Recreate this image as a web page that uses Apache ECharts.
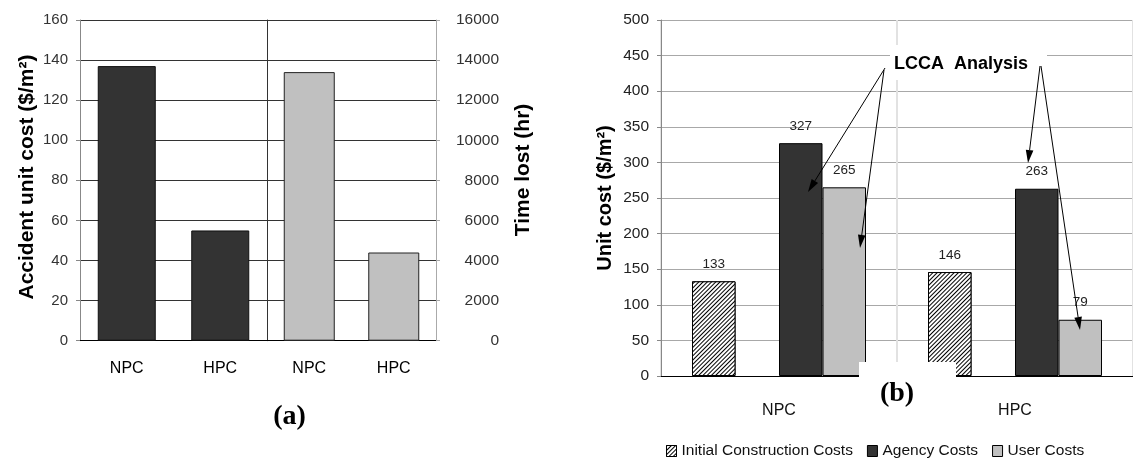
<!DOCTYPE html>
<html>
<head>
<meta charset="utf-8">
<script src="https://cdn.jsdelivr.net/npm/echarts@6/dist/echarts.min.js"></script>
<style>
html,body{margin:0;padding:0;background:#fff;}
#chart{width:1133px;height:469px;}
</style>
</head>
<body>
<div id="chart"></div>
<script>
// ---- data ----
const categories = ['NPC', 'HPC'];
const accidentUnitCost = [137, 55];        // $/m2, panel (a) left axis
const timeLost = [13400, 4400];            // hr, panel (a) right axis
const initialConstructionCosts = [133, 146];
const agencyCosts = [327, 263];
const userCosts = [265, 79];
const legendNames = ['Initial Construction Costs', 'Agency Costs', 'User Costs'];

const SANS = '"Liberation Sans", Arial, sans-serif';
const SERIF = '"Liberation Serif", "Times New Roman", serif';

const chart = echarts.init(document.getElementById('chart'), null, {renderer: 'canvas'});

function arrow(x1, y1, x2, y2) {
  const a = Math.atan2(y2 - y1, x2 - x1), L = 13, W = 3.8;
  const bx = x2 - L * Math.cos(a), by = y2 - L * Math.sin(a);
  const s = Math.sin(a), c = Math.cos(a);
  return [
    {type: 'line', z: 110, shape: {x1: x1, y1: y1, x2: bx, y2: by}, style: {stroke: '#000', lineWidth: 1}},
    {type: 'polygon', z: 110, shape: {points: [[x2, y2], [bx + W * s, by - W * c], [bx - W * s, by + W * c]]}, style: {fill: '#000'}}
  ];
}

const plain = (v) => String(v);

const catAxisA = (gi) => ({
  gridIndex: gi, type: 'category', data: categories,
  axisLine: {lineStyle: {color: '#000', width: 1}},
  axisTick: {length: 5, lineStyle: {color: '#555'}},
  axisLabel: {margin: 20, fontSize: 16, fontFamily: SANS, color: '#000'}
});

const hatch = {
  symbol: 'rect', symbolSize: 1, dashArrayX: [1, 0], dashArrayY: [1, 2],
  rotation: -Math.PI / 4, color: '#000', backgroundColor: '#fff'
};

const labelB = {show: true, position: 'top', distance: 10, fontSize: 13.5, fontFamily: SANS, color: '#222'};

const option = {
  backgroundColor: '#fff',
  animation: false,
  grid: [
    {left: 80, top: 20, width: 187, height: 320.7},
    {left: 267, top: 20, width: 169, height: 320.7},
    {left: 661, top: 20, width: 480, height: 356}
  ],
  xAxis: [
    catAxisA(0),
    catAxisA(1),
    {
      gridIndex: 2, type: 'category', data: categories,
      axisLine: {lineStyle: {color: '#000', width: 1}},
      axisTick: {length: 7, lineStyle: {color: '#999'}},
      axisLabel: {margin: 27, fontSize: 16, fontFamily: SANS, color: '#111'},
      splitLine: {show: true, lineStyle: {color: '#e2e2e2', width: 2}}
    }
  ],
  yAxis: [
    {
      gridIndex: 0, type: 'value', min: 0, max: 160, interval: 20,
      axisLine: {show: true, lineStyle: {color: '#888'}},
      axisTick: {show: true, length: 4, lineStyle: {color: '#888'}},
      axisLabel: {margin: 12, fontSize: 15, fontFamily: SANS, color: '#333', formatter: plain},
      splitLine: {lineStyle: {color: '#333', width: 1}}
    },
    {
      gridIndex: 1, type: 'value', position: 'right', min: 0, max: 16000, interval: 2000,
      axisLine: {show: true, lineStyle: {color: '#aaa'}},
      axisTick: {show: true, length: 4, lineStyle: {color: '#aaa'}},
      axisLabel: {margin: 63, align: 'right', fontSize: 15.5, fontFamily: SANS, color: '#333', formatter: plain},
      splitLine: {lineStyle: {color: '#333', width: 1}}
    },
    {
      gridIndex: 1, type: 'value', position: 'left', min: 0, max: 16000, interval: 2000,
      axisLine: {show: true, lineStyle: {color: '#333'}},
      axisTick: {show: false}, axisLabel: {show: false}, splitLine: {show: false}
    },
    {
      gridIndex: 2, type: 'value', min: 0, max: 500, interval: 50,
      axisLine: {show: true, lineStyle: {color: '#888'}},
      axisTick: {show: true, length: 4, lineStyle: {color: '#888'}},
      axisLabel: {margin: 12, fontSize: 15.5, fontFamily: SANS, color: '#222', formatter: plain},
      splitLine: {lineStyle: {color: '#a8a8a8', width: 1}}
    }
  ],
  legend: {
    data: legendNames, left: 661, top: 438, icon: 'rect',
    itemWidth: 10, itemHeight: 11, itemGap: 14,
    itemStyle: {borderColor: '#000', borderWidth: 1},
    textStyle: {fontSize: 15.5, fontFamily: SANS, color: '#111'}
  },
  series: [
    {
      type: 'bar', name: 'Accident unit cost', xAxisIndex: 0, yAxisIndex: 0,
      data: accidentUnitCost, barWidth: 58,
      itemStyle: {color: '#333', borderColor: '#111', borderWidth: 1}
    },
    {
      type: 'bar', name: 'Time lost', xAxisIndex: 1, yAxisIndex: 1,
      data: timeLost, barWidth: 51,
      itemStyle: {color: '#c0c0c0', borderColor: '#222', borderWidth: 1}
    },
    {
      type: 'bar', name: legendNames[0], xAxisIndex: 2, yAxisIndex: 3,
      data: initialConstructionCosts, barWidth: 43.5, barGap: '0%',
      itemStyle: {color: '#fff', borderColor: '#000', borderWidth: 1, decal: hatch},
      label: labelB
    },
    {
      type: 'bar', name: 'gap', xAxisIndex: 2, yAxisIndex: 3,
      data: [null, null], barWidth: 43.5, barGap: '0%'
    },
    {
      type: 'bar', name: legendNames[1], xAxisIndex: 2, yAxisIndex: 3,
      data: agencyCosts, barWidth: 43.5, barGap: '0%',
      itemStyle: {color: '#333', borderColor: '#000', borderWidth: 1},
      label: labelB
    },
    {
      type: 'bar', name: legendNames[2], xAxisIndex: 2, yAxisIndex: 3,
      data: userCosts, barWidth: 43.5, barGap: '0%',
      itemStyle: {color: '#c0c0c0', borderColor: '#000', borderWidth: 1},
      label: labelB
    }
  ],
  graphic: [
    {type: 'text', x: 27, y: 177, rotation: Math.PI / 2, z: 100,
      style: {text: 'Accident unit cost ($/m²)', font: 'bold 21px ' + SANS, fill: '#000', align: 'center', verticalAlign: 'middle'}},
    {type: 'text', x: 523, y: 170, rotation: Math.PI / 2, z: 100,
      style: {text: 'Time lost (hr)', font: 'bold 21px ' + SANS, fill: '#000', align: 'center', verticalAlign: 'middle'}},
    {type: 'text', x: 605, y: 198, rotation: Math.PI / 2, z: 100,
      style: {text: 'Unit cost ($/m²)', font: 'bold 20px ' + SANS, fill: '#000', align: 'center', verticalAlign: 'middle'}},
    {type: 'text', x: 289.5, y: 417, z: 100,
      style: {text: '(a)', font: 'bold 28px ' + SERIF, fill: '#000', align: 'center', verticalAlign: 'middle'}},
    {type: 'rect', z: 100, shape: {x: 859, y: 362, width: 97, height: 44}, style: {fill: '#fff'}},
    {type: 'text', x: 897, y: 394, z: 101,
      style: {text: '(b)', font: 'bold 28px ' + SERIF, fill: '#000', align: 'center', verticalAlign: 'middle'}},
    {type: 'rect', z: 100, shape: {x: 890, y: 45, width: 157, height: 35}, style: {fill: '#fff'}},
    {type: 'text', x: 961, y: 64, z: 101,
      style: {text: 'LCCA  Analysis', font: 'bold 18px ' + SANS, fill: '#000', align: 'center', verticalAlign: 'middle'}}
  ]
    .concat(arrow(885, 68, 808, 192))
    .concat(arrow(884, 70, 860, 248))
    .concat(arrow(1040, 66, 1028, 163))
    .concat(arrow(1041, 66, 1080, 330))
};

chart.setOption(option);
</script>
</body>
</html>
